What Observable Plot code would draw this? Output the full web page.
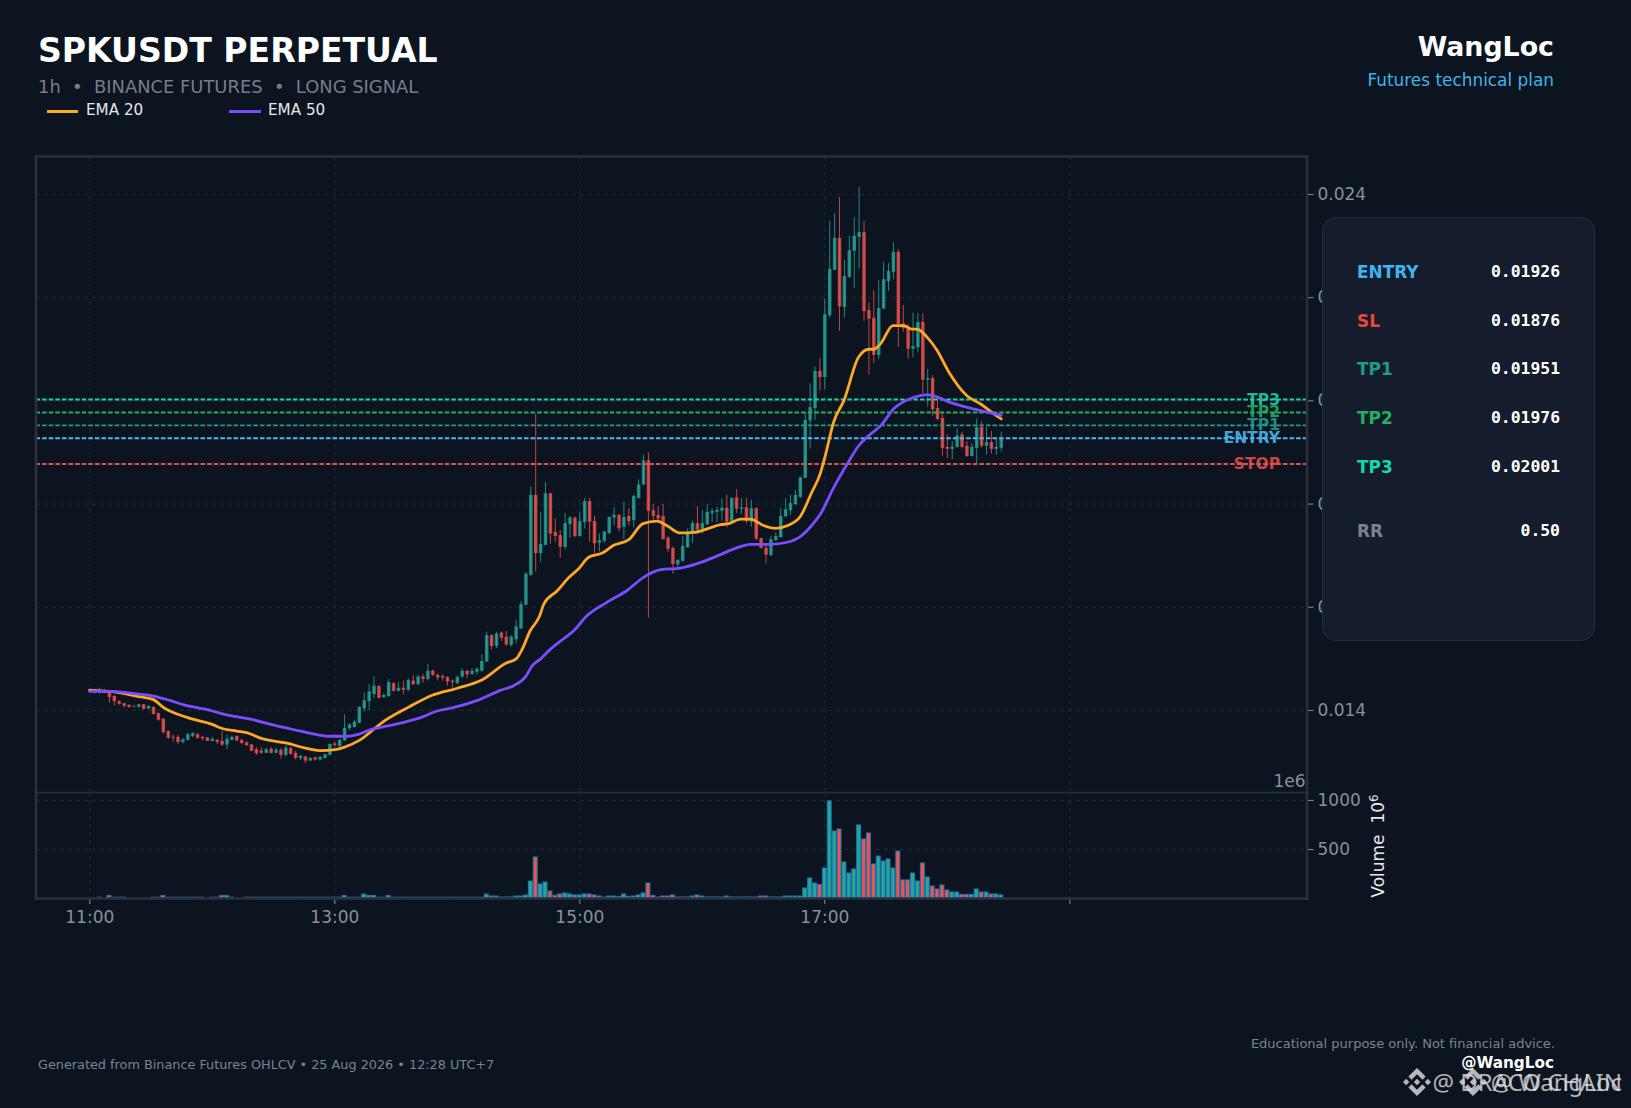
<!DOCTYPE html>
<html>
<head>
<meta charset="utf-8">
<script src="https://cdn.jsdelivr.net/npm/d3@7"></script>
<script src="https://cdn.jsdelivr.net/npm/@observablehq/plot@0.6"></script>
<style>
html,body{margin:0;padding:0;background:#0c1420;width:1631px;height:1108px;overflow:hidden;font-family:"DejaVu Sans",sans-serif}
.t{position:absolute;white-space:pre;line-height:1;transform:translateY(-50%)}
.r{right:77px;text-align:right}
svg.plot{position:absolute;left:0;background:transparent}
#panel{position:absolute;left:1322px;top:217px;width:271px;height:422px;background:#151c2b;border:1.5px solid #262d3b;border-radius:14px;z-index:3}
.row{z-index:4;font-size:16.9px;font-weight:bold}
.val{z-index:4;font-family:"DejaVu Sans Mono",monospace;font-size:16.4px;font-weight:bold;color:#fff;right:71px;text-align:right}
.sw{position:absolute;height:3px}
.wm{position:absolute;opacity:.8}
</style>
</head>
<body>
<div id="chart"></div>
<script>
// Values are in units of 0.00001 USDT
const open5 = [
1440,1439,1434,1439,1436,1427,1417,1413,1410,1408,
1406,1411,1403,1406,1394,1383,1359,1348,1348,1338,
1342,1350,1353,1348,1347,1340,1342,1340,1333,1342,
1350,1342,1337,1333,1324,1321,1317,1325,1317,1323,
1313,1326,1317,1307,1310,1302,1308,1304,1307,1313,
1335,1330,1341,1365,1367,1375,1403,1417,1431,1447,
1425,1427,1452,1437,1443,1439,1457,1450,1465,1460,
1476,1468,1466,1464,1457,1452,1465,1476,1470,1474,
1476,1494,1545,1524,1550,1542,1526,1537,1558,1604,
1662,1817,1704,1720,1820,1745,1739,1716,1760,1773,
1737,1764,1805,1766,1724,1728,1743,1773,1778,1755,
1776,1768,1811,1837,1884,1787,1778,1776,1734,1714,
1682,1689,1715,1742,1762,1751,1760,1782,1784,1786,
1792,1765,1812,1790,1793,1765,1791,1733,1714,1700,
1729,1735,1775,1787,1799,1813,1850,1961,1985,2057,
2045,2165,2253,2315,2181,2239,2290,2317,2326,2175,
2160,2088,2178,2231,2249,2288,2149,2142,2100,2103,
2152,2040,2043,1985,1966,1910,1906,1910,1934,1912,
1892,1908,1948,1912,1919,1906,1908];
const close5 = [
1435,1434,1438,1434,1425,1417,1412,1408,1406,1407,
1411,1402,1408,1392,1381,1357,1346,1346,1338,1343,
1353,1355,1346,1345,1340,1344,1338,1333,1344,1348,
1341,1336,1332,1321,1316,1317,1324,1317,1323,1313,
1327,1315,1307,1311,1302,1307,1304,1309,1314,1334,
1332,1342,1365,1372,1377,1406,1419,1436,1447,1423,
1429,1454,1437,1443,1439,1458,1450,1465,1460,1476,
1468,1463,1463,1455,1454,1464,1476,1469,1476,1480,
1495,1545,1524,1548,1540,1527,1542,1562,1605,1664,
1817,1704,1722,1820,1742,1737,1716,1762,1773,1737,
1766,1805,1765,1723,1729,1746,1774,1778,1752,1774,
1766,1815,1837,1884,1786,1776,1771,1731,1712,1683,
1691,1718,1744,1762,1750,1762,1784,1786,1788,1792,
1765,1811,1790,1793,1766,1791,1732,1714,1701,1731,
1737,1776,1789,1801,1817,1851,1962,1987,2057,2045,
2167,2255,2315,2182,2241,2291,2319,2326,2173,2158,
2088,2179,2235,2251,2288,2148,2140,2100,2105,2152,
2040,2043,1983,1964,1908,1906,1910,1932,1910,1892,
1910,1948,1912,1919,1906,1910,1927];
const high5 = [
1442,1441,1443,1440,1439,1429,1419,1414,1411,1410,
1412,1412,1409,1407,1395,1384,1361,1353,1352,1346,
1356,1357,1355,1350,1347,1348,1344,1359,1352,1350,
1350,1344,1340,1334,1328,1328,1327,1328,1327,1327,
1332,1329,1321,1313,1311,1308,1310,1311,1315,1335,
1338,1344,1392,1374,1381,1407,1434,1450,1465,1447,
1432,1460,1454,1454,1457,1461,1467,1468,1470,1489,
1478,1471,1469,1465,1459,1467,1481,1477,1481,1483,
1508,1552,1547,1551,1552,1553,1545,1574,1611,1667,
1833,1974,1784,1842,1821,1771,1749,1782,1776,1775,
1784,1811,1811,1776,1742,1747,1775,1793,1780,1804,
1791,1817,1847,1895,1899,1799,1795,1799,1737,1717,
1692,1737,1752,1767,1795,1788,1799,1791,1794,1810,
1817,1811,1828,1811,1811,1808,1793,1734,1722,1738,
1744,1792,1810,1817,1826,1852,1978,2033,2065,2082,
2198,2348,2363,2394,2272,2319,2355,2414,2348,2190,
2214,2233,2268,2266,2306,2293,2185,2148,2170,2169,
2169,2061,2049,2007,1975,1934,1921,1946,1939,1921,
1917,1965,1959,1948,1941,1926,1939];
const low5 = [
1434,1432,1432,1434,1414,1408,1410,1405,1404,1405,
1405,1401,1401,1392,1379,1354,1344,1339,1334,1335,
1341,1347,1344,1341,1340,1339,1334,1330,1324,1341,
1339,1334,1330,1320,1313,1315,1316,1316,1316,1306,
1310,1313,1304,1303,1297,1301,1302,1303,1306,1312,
1328,1324,1340,1361,1366,1374,1397,1399,1423,1423,
1423,1425,1436,1436,1430,1437,1448,1448,1453,1457,
1466,1457,1457,1447,1443,1450,1462,1461,1468,1469,
1474,1493,1517,1520,1534,1524,1523,1529,1557,1603,
1660,1668,1687,1719,1722,1726,1695,1711,1734,1735,
1736,1752,1726,1704,1707,1724,1741,1758,1746,1731,
1758,1754,1810,1836,1579,1765,1767,1731,1706,1664,
1671,1687,1715,1723,1742,1742,1758,1764,1764,1767,
1754,1763,1782,1780,1762,1755,1729,1713,1684,1699,
1728,1734,1775,1778,1797,1811,1849,1907,1962,2019,
2022,2161,2253,2135,2160,2238,2218,2256,2154,2050,
2072,2080,2177,2212,2235,2104,2133,2081,2083,2093,
2014,1988,1970,1962,1893,1888,1886,1908,1907,1891,
1892,1878,1908,1895,1897,1895,1901];
// Volume, in millions
const volume = [
0,0,8,0,25,8,8,8,0,0,
0,0,0,8,8,25,8,8,8,8,
8,8,8,8,0,8,8,25,25,8,
0,0,8,8,8,8,8,8,8,8,
8,8,8,8,8,8,8,8,8,8,
8,8,25,8,8,8,40,25,25,8,
8,25,8,8,8,8,8,8,8,8,
8,8,8,8,8,8,8,8,8,8,
8,40,20,20,10,10,10,20,20,30,
173,418,143,163,71,27,41,51,41,31,
31,41,41,31,20,10,20,20,14,41,
17,20,31,51,153,27,10,20,20,31,
10,10,10,20,31,20,10,10,10,10,
20,10,10,10,10,10,10,20,20,10,
10,10,20,20,20,20,102,204,153,139,
306,990,683,704,367,255,296,745,602,663,
347,428,377,398,306,479,184,184,255,173,
357,214,122,92,133,82,61,61,37,37,
37,92,61,61,41,41,31];

const ema20Idx = [0,5,10,13,15,20,25,27,30,32,35,40,45,47,50,52,55,60,65,70,75,80,85,87,88.2,89.9,91.7,92.7,95.4,97.8,99.8,101.8,104.6,106.9,110,112.9,115.8,117.8,120.5,123.3,126,128.7,130.4,132.8,134.8,137.6,140,142.3,145,147.2,149.1,150.1,151.8,153.9,156.9,159,160,161.4,163.9,166.1,167.8,168.8,170.9,172.9,175.3,179,181.8,184.5,186];
const ema20 = [1439,1436,1427,1421,1406,1386,1373,1365,1360,1357,1346,1337,1325,1322,1324,1329,1342,1379,1406,1430,1443,1459,1492,1500,1518,1555,1581,1607,1632,1658,1675,1697,1705,1720,1731,1762,1767,1758,1744,1745,1752,1760,1762,1771,1771,1758,1753,1758,1776,1820,1860,1894,1959,2001,2085,2100,2100,2111,2146,2146,2139,2139,2123,2098,2056,2010,1994,1975,1965];
const ema50Idx = [0,4.2,9.7,13,16.5,19.2,23.3,28.7,32.8,36.9,42.5,46.4,49.1,52.5,54.6,57.3,60.7,64.1,67.5,70.9,74.3,79,83.8,86.5,88.9,90.3,92,93.7,96.7,98.8,101.5,105.6,109.7,113,116.5,120.5,125.3,128.7,132,134.8,138.9,142.3,145,147.2,149.2,151.7,154.6,156.9,159,161.4,164.1,168.2,170.9,172.9,175,179.7,183.2,186];
const ema50 = [1437,1437,1432,1428,1419,1411,1403,1390,1383,1373,1361,1353,1350,1350,1353,1363,1370,1377,1386,1399,1406,1419,1439,1448,1465,1487,1500,1516,1539,1555,1584,1610,1633,1658,1673,1676,1689,1702,1715,1722,1722,1726,1737,1757,1782,1830,1878,1913,1933,1952,1985,2007,2012,2008,1999,1986,1978,1972];

const levelNames = ["TP3","TP2","TP1","ENTRY","STOP"];
const levelValues = [0.02001,0.01976,0.01951,0.01926,0.01876];
const levelColors = ["#1dd1a8","#27ae60","#1f9e8f","#4fb8ef","#e0504c"];
const priceTicks = [0.014,0.016,0.018,0.020,0.022,0.024];
const volumeTicks = [500,1000];
const timeTicks = [0,50,100,150,200];
const timeLabels = ["11:00","13:00","15:00","17:00",""];
const tableLabels = ["ENTRY","SL","TP1","TP2","TP3","RR"];
const tableValues = ["0.01926","0.01876","0.01951","0.01976","0.02001","0.50"];
const tableColors = ["#3db5f0","#e9483f","#219a8c","#22b060","#14d8a8","#7b8291"];
const tableRows = [272,320.5,369,417.5,466.5,531];

const up="#26a69a", down="#ef5350", axisColor="#8a9099", gridColor="#1e2533", frameColor="#2a303d";
const fontFamily='"DejaVu Sans",sans-serif';
const xDomain=[-10.98,248.4];

const candles = open5.map((o,i)=>({i,open:o/1e5,close:close5[i]/1e5,high:high5[i]/1e5,low:low5[i]/1e5,vol:volume[i],color:close5[i]>=o?up:down}));
const line20 = ema20Idx.map((i,k)=>({i,v:ema20[k]/1e5}));
const line50 = ema50Idx.map((i,k)=>({i,v:ema50[k]/1e5}));
const levels = levelNames.map((name,k)=>({name,v:levelValues[k],color:levelColors[k]}));
const gridStyle={stroke:gridColor,strokeWidth:1.2,strokeDasharray:"4.5,3.5"};

const price = Plot.plot({
  width:1631,height:792,marginTop:156,marginBottom:0,marginLeft:35.5,marginRight:324.5,
  x:{domain:xDomain,axis:null},
  y:{domain:[0.01241,0.024736],axis:null},
  style:{fontFamily,background:"transparent",overflow:"visible"},
  marks:[
    Plot.ruleX(timeTicks,{x:d=>d,...gridStyle}),
    Plot.ruleY(priceTicks,{y:d=>d,...gridStyle}),
    Plot.ruleX(candles,{x:"i",y1:"low",y2:"high",stroke:"color",strokeWidth:1,strokeOpacity:.8}),
    Plot.ruleX(candles,{x:"i",y1:"open",y2:"close",stroke:"color",strokeWidth:3.5,strokeOpacity:.78}),
    Plot.ruleY(levels,{y:"v",stroke:"color",strokeWidth:1.9,strokeDasharray:"4.6,2",dy:-.8}),
    Plot.line(line20,{x:"i",y:"v",stroke:"#ffa726",strokeWidth:2.8,curve:"monotone-x"}),
    Plot.line(line50,{x:"i",y:"v",stroke:"#7c4dff",strokeWidth:2.8,curve:"monotone-x"}),
    Plot.text(levels,{y:"v",text:"name",fill:"color",fillOpacity:.88,frameAnchor:"right",dx:-27,dy:-.8,fontSize:15.5,fontWeight:"bold"}),
    Plot.axisY(priceTicks,{anchor:"right",color:axisColor,tickSize:6,tickPadding:4.5,fontSize:17,label:null,tickFormat:d3.format(".3f"),textAnchor:"start"}),
    Plot.frame({anchor:"top",stroke:frameColor,strokeWidth:2.5}),
    Plot.frame({anchor:"left",stroke:frameColor,strokeWidth:2.5}),
    Plot.frame({anchor:"right",stroke:frameColor,strokeWidth:2.5}),
    Plot.frame({anchor:"bottom",stroke:frameColor,strokeWidth:1.3})
  ]
});
price.style.top="0px";
const vol = Plot.plot({
  width:1631,height:150,marginTop:0,marginBottom:44,marginLeft:35.5,marginRight:324.5,
  x:{domain:xDomain,axis:null},
  y:{domain:[0,1081],axis:null},
  style:{fontFamily,background:"transparent",overflow:"visible"},
  marks:[
    Plot.ruleX(timeTicks,{x:d=>d,...gridStyle}),
    Plot.ruleY(volumeTicks,{y:d=>d,...gridStyle}),
    Plot.rect(candles,{x1:d=>d.i-.4,x2:d=>d.i+.4,y1:0,y2:"vol",fill:"color",stroke:"#1f77b4",strokeWidth:1}),
    Plot.axisY(volumeTicks,{anchor:"right",color:axisColor,tickSize:6,tickPadding:4.5,fontSize:17,label:null,tickFormat:d=>String(d),textAnchor:"start"}),
    Plot.axisX(timeTicks,{anchor:"bottom",color:axisColor,tickSize:6,tickPadding:6,fontSize:17,label:null,tickFormat:d=>timeLabels[timeTicks.indexOf(d)]}),
    Plot.frame({anchor:"left",stroke:frameColor,strokeWidth:2.5}),
    Plot.frame({anchor:"right",stroke:frameColor,strokeWidth:2.5}),
    Plot.frame({anchor:"bottom",stroke:frameColor,strokeWidth:2.5})
  ]
});
vol.style.top="792px";
const chart=document.getElementById("chart");
chart.append(price,vol);

function txt(s,style,cls){const e=document.createElement("div");e.className="t "+(cls||"");e.textContent=s;Object.assign(e.style,style);document.body.append(e);return e;}
txt("SPKUSDT PERPETUAL",{left:"38px",top:"50.5px",fontSize:"33.1px",fontWeight:"bold",color:"#fff"});
txt("1h  •  BINANCE FUTURES  •  LONG SIGNAL",{left:"38px",top:"86.5px",fontSize:"17.9px",color:"#777e8a"});
txt("WangLoc",{top:"47px",fontSize:"26.8px",fontWeight:"bold",color:"#fff"},"r");
txt("Futures technical plan",{top:"80px",fontSize:"16.9px",color:"#3fb4ea"},"r");
txt("EMA 20",{left:"86px",top:"111px",fontSize:"15.2px",color:"#e6e8ec"});
txt("EMA 50",{left:"268px",top:"111px",fontSize:"15.2px",color:"#e6e8ec"});
for(const [l,w,c] of [[47,31,"#ffa726"],[229,32,"#7c4dff"]]){const s=document.createElement("div");s.className="sw";Object.assign(s.style,{left:l+"px",width:w+"px",top:"110px",background:c});document.body.append(s);}
txt("1e6",{right:"325.5px",top:"781px",fontSize:"17px",color:axisColor});
const vl=txt("",{left:"1378px",top:"846px",fontSize:"17px",color:"#e6e8ec",transform:"translate(-50%,-50%) rotate(-90deg)"});
vl.innerHTML='Volume  10<span style="font-size:12px;position:relative;top:-6px">6</span>';
txt("Generated from Binance Futures OHLCV • 25 Aug 2026 • 12:28 UTC+7",{left:"38px",top:"1065px",fontSize:"12.82px",color:"#7d838e"});
txt("Educational purpose only. Not financial advice.",{top:"1043px",right:"76px",fontSize:"13px",color:"#7d838e"},"r");
txt("@WangLoc",{top:"1064px",fontSize:"15.25px",fontWeight:"bold",color:"#fff"},"r");

const p=document.createElement("div");p.id="panel";document.body.append(p);
tableLabels.forEach((s,k)=>{
  txt(s,{left:"1357px",top:tableRows[k]+"px",color:tableColors[k]},"row");
  txt(tableValues[k],{top:tableRows[k]+"px"},"val");
});

const logo='M38.73 53.2l24.59-24.58 24.6 24.6 14.3-14.31L63.32 0 24.43 38.9zM0 63.31l14.3-14.31 14.31 14.31-14.31 14.3zM38.73 73.41l24.59 24.59 24.6-24.6 14.31 14.29-38.9 38.91-38.91-38.88v-.01zM98 63.31l14.3-14.31 14.31 14.3-14.31 14.31zM77.83 63.3L63.32 48.78 52.59 59.51l-1.24 1.23-2.54 2.54 14.51 14.5 14.51-14.47z';
for(const cx of [1417,1473]){
  const d=document.createElement("div");d.className="wm";
  Object.assign(d.style,{left:(cx-14)+"px",top:"1068px",width:"28px",height:"28px"});
  d.innerHTML=`<svg viewBox="0 0 126.61 126.61" width="28" height="28"><path fill="#e2e2e2" d="${logo}"/></svg>`;
  document.body.append(d);
}
txt("@ DRACO CHAIN",{right:"9px",top:"1082px",fontFamily:'"Noto Sans",sans-serif',fontSize:"24px",color:"#dcdcdc",opacity:".8"});
txt("@ WangLoc",{right:"9px",top:"1082px",fontFamily:'"Noto Sans",sans-serif',fontSize:"24px",color:"#dcdcdc",opacity:".8"});
</script>
</body>
</html>
